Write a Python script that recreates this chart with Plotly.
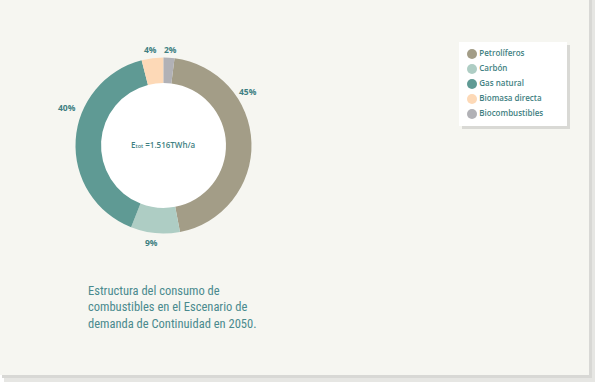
import plotly.graph_objects as go

categories = ["Petrolíferos", "Carbón", "Gas natural", "Biomasa directa", "Biocombustibles"]
values = [45, 9, 40, 4, 2]
colors = ["#a39d87", "#aecdc4", "#5f9a94", "#fdd9b7", "#b1b1b6"]
center_text = "E<span style='font-size:5.5px'>tot</span> =1.516TWh/a"
caption = "Estructura del consumo de<br>combustibles en el Escenario de<br>demanda de Continuidad en 2050."

W, H = 598, 392
TEAL = "#3f7f82"
FONT = "Open Sans"

# pixel placement of each slice's percentage label (layout only)
label_px = [(248, 91), (151, 242), (67, 107), (150, 49), (171, 49)]

fig = go.Figure()
cx, cy, r, hole = 163.5, 145.5, 88, 0.71
fig.add_trace(go.Pie(
    labels=categories, values=values, sort=False, direction="clockwise",
    rotation=7.2, hole=hole,
    marker=dict(colors=colors, line=dict(width=0)),
    textinfo="none", showlegend=False, hoverinfo="label+percent",
    domain=dict(x=[(cx - r) / W, (cx + r) / W], y=[1 - (cy + r) / H, 1 - (cy - r) / H]),
))

# custom legend drawn from the categories on a hidden axis
fig.add_trace(go.Scatter(
    x=[0] * len(categories), y=list(range(len(categories))),
    mode="markers+text", text=categories, textposition="middle right",
    marker=dict(color=colors, size=10, symbol="circle"),
    textfont=dict(family=FONT, size=8, color=TEAL, weight=600),
    xaxis="x2", yaxis="y2", showlegend=False, hoverinfo="text", cliponaxis=False,
))

total = sum(values)
annotations = []
for v, (px, py) in zip(values, label_px):
    annotations.append(dict(text=f"{round(100 * v / total)}%", x=px / W, y=1 - py / H,
                            xref="paper", yref="paper", xanchor="center", yanchor="middle",
                            showarrow=False,
                            font=dict(family=FONT, size=8.5, color=TEAL, weight=700)))
annotations += [
    dict(text=center_text, x=cx / W, y=1 - 144 / H, xref="paper", yref="paper",
         xanchor="center", yanchor="middle",
         showarrow=False, font=dict(family=FONT, size=8, color=TEAL, weight=600)),
    dict(text=caption, x=86 / W, y=1 - 281 / H, xref="paper", yref="paper",
         xanchor="left", yanchor="top", align="left", showarrow=False,
         font=dict(family="Liberation Sans Narrow, Roboto Condensed, Arial Narrow", size=12.5, color="#4a8a8e")),
]

ri = r * hole + 0.5
shapes = [
    dict(type="rect", xref="paper", yref="paper", x0=4 / W, x1=595 / W, y0=1 - 382 / H, y1=1,
         fillcolor="#e6e6e3", line=dict(width=0), layer="below"),
    dict(type="rect", xref="paper", yref="paper", x0=2 / W, x1=592 / W, y0=1 - 378 / H, y1=1,
         fillcolor="#d8d8d5", line=dict(width=0), layer="below"),
    dict(type="rect", xref="paper", yref="paper", x0=0, x1=589 / W, y0=1 - 375 / H, y1=1,
         fillcolor="#f6f6f1", line=dict(width=0), layer="below"),
    dict(type="rect", xref="paper", yref="paper", x0=462 / W, x1=570 / W, y0=1 - 129 / H, y1=1 - 45 / H,
         fillcolor="#d9d9d5", line=dict(width=0), layer="below"),
    dict(type="rect", xref="paper", yref="paper", x0=459 / W, x1=567 / W, y0=1 - 126 / H, y1=1 - 42 / H,
         fillcolor="#ffffff", line=dict(width=0), layer="below"),
    # white donut hole
    dict(type="circle", xref="paper", yref="paper", x0=(cx - ri) / W, x1=(cx + ri) / W,
         y0=1 - (cy + ri) / H, y1=1 - (cy - ri) / H,
         fillcolor="#ffffff", line=dict(width=0), layer="below"),
]

fig.update_layout(
    width=W, height=H, margin=dict(l=0, r=0, t=0, b=0),
    paper_bgcolor="#ffffff", plot_bgcolor="rgba(0,0,0,0)",
    xaxis=dict(visible=False), yaxis=dict(visible=False),
    xaxis2=dict(visible=False, domain=[472 / W, 567 / W], range=[0, 95], anchor="y2", fixedrange=True),
    yaxis2=dict(visible=False, domain=[1 - 121.5 / H, 1 - 46.5 / H], range=[4.5, -0.5], anchor="x2", fixedrange=True),
    shapes=shapes, annotations=annotations, showlegend=False,
)
fig.write_html("out.html", config={"displayModeBar": False},
               post_script="document.body.style.margin='0';document.body.style.padding='0';")
